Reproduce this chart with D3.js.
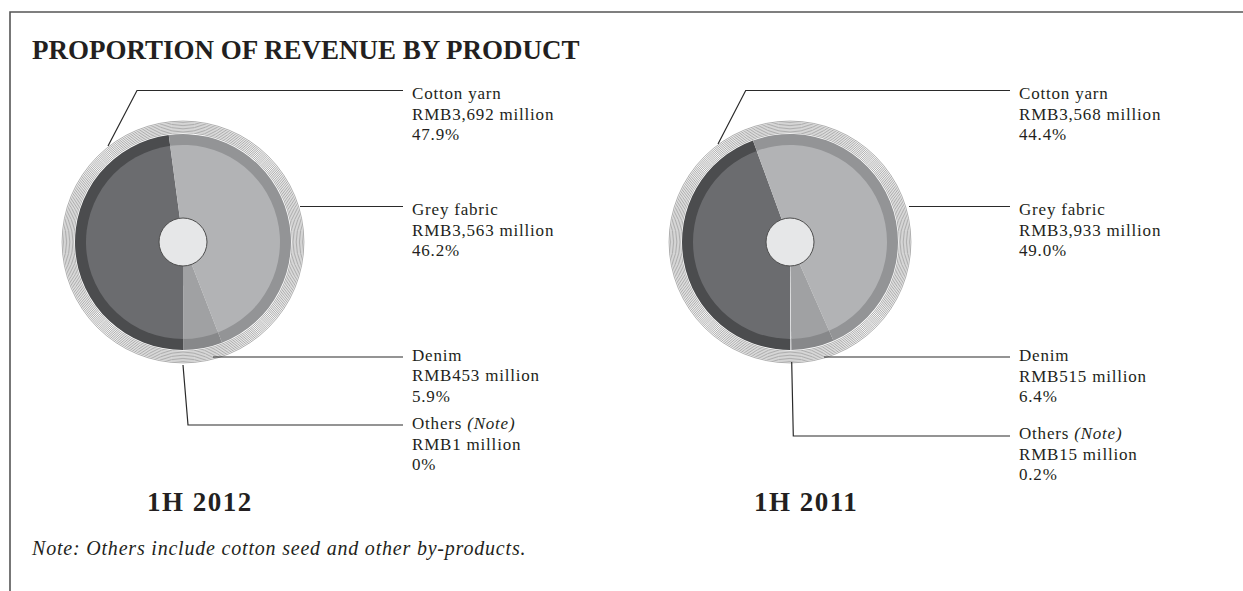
<!DOCTYPE html>
<html>
<head>
<meta charset="utf-8">
<script src="https://cdn.jsdelivr.net/npm/d3@7.9.0/dist/d3.min.js"></script>
<style>
  html, body { margin: 0; padding: 0; background: #fff; }
  svg { display: block; font-family: 'Liberation Serif', 'Times New Roman', serif; }
</style>
</head>
<body>
<svg id="chart" width="1243" height="591"></svg>
<script>
// values
const products = ['Cotton yarn', 'Grey fabric', 'Denim', 'Others'];
const periods = ['1H 2012', '1H 2011'];
const revenue2012 = [3692, 3563, 453, 1];
const share2012 = ['47.9%', '46.2%', '5.9%', '0%'];
const revenue2011 = [3568, 3933, 515, 15];
const share2011 = ['44.4%', '49.0%', '6.4%', '0.2%'];

const faceColors = ['#6b6c6f', '#b2b3b5', '#a0a1a3', '#d9dadc'];
const ringColors = ['#4b4c4e', '#939496', '#87888a', '#c9cacc'];

const svg = d3.select('#chart');
const ink = '#231f20';

// frame (top + left edges only)
svg.append('path')
  .attr('d', 'M10,591 L10,12 L1243,12')
  .attr('fill', 'none')
  .attr('stroke', '#555')
  .attr('stroke-width', 1.6);

svg.append('text')
  .attr('x', 32).attr('y', 59)
  .attr('font-size', 27).attr('font-weight', 'bold')
  .attr('fill', ink)
  .text('PROPORTION OF REVENUE BY PRODUCT');

svg.append('text')
  .attr('x', 32).attr('y', 555)
  .attr('font-size', 20).attr('font-style', 'italic')
  .attr('letter-spacing', 0.8)
  .attr('fill', ink)
  .text('Note: Others include cotton seed and other by-products.');

const pie = d3.pie().sort(null).startAngle(Math.PI).endAngle(3 * Math.PI);
const faceArc = d3.arc().innerRadius(0).outerRadius(97);
const ringArc = d3.arc().innerRadius(96).outerRadius(108);

const charts = [
  {
    cx: 183, cy: 242, revenue: revenue2012, share: share2012, period: periods[0],
    // leader lines: [start, elbow?] relative to centre, plus label baseline
    leaders: [
      { pts: [[-75, -96], [-46, -151.5]], baseline: 99 },
      { pts: [[117, -35.5]], baseline: 215 },
      { pts: [[30, 115]], baseline: 360.5 },
      { pts: [[0, 123], [5, 183]], baseline: 429 }
    ]
  },
  {
    cx: 790, cy: 242, revenue: revenue2011, share: share2011, period: periods[1],
    leaders: [
      { pts: [[-72, -98], [-44.3, -151.5]], baseline: 99 },
      { pts: [[119, -35.5]], baseline: 215 },
      { pts: [[34, 115]], baseline: 361 },
      { pts: [[1.7, 120], [3.3, 194]], baseline: 439 }
    ]
  }
];

charts.forEach(c => {
  const g = svg.append('g').attr('transform', `translate(${c.cx},${c.cy})`);
  const arcs = pie(c.revenue);

  // hatched outer band
  g.selectAll('circle.stripe')
    .data(d3.range(9))
    .enter()
    .append('circle')
    .attr('class', 'stripe')
    .attr('r', i => 109.3 + i * 1.45)
    .attr('fill', 'none')
    .attr('stroke', '#6a6a6a')
    .attr('stroke-width', 0.55);

  g.selectAll('path.ring')
    .data(arcs)
    .enter()
    .append('path')
    .attr('class', 'ring')
    .attr('d', ringArc)
    .attr('fill', (_, i) => ringColors[i]);

  g.selectAll('path.face')
    .data(arcs)
    .enter()
    .append('path')
    .attr('class', 'face')
    .attr('d', faceArc)
    .attr('fill', (_, i) => faceColors[i]);

  g.append('circle')
    .attr('r', 24)
    .attr('fill', '#e6e7e8')
    .attr('stroke', '#4d4d4d')
    .attr('stroke-width', 1);

  // leader lines and labels
  const lineEnd = 220;
  const textX = 229;
  c.leaders.forEach((l, i) => {
    const pts = l.pts.slice();
    const last = pts[pts.length - 1];
    pts.push([lineEnd, last[1]]);
    g.append('path')
      .attr('d', d3.line()(pts))
      .attr('fill', 'none')
      .attr('stroke', '#2a2a2a')
      .attr('stroke-width', 1.2);

    const t = g.append('text')
      .attr('x', textX)
      .attr('y', l.baseline - c.cy)
      .attr('font-size', 17)
      .attr('letter-spacing', 0.8)
      .attr('fill', ink);
    t.append('tspan').attr('x', textX).text(products[i]);
    if (products[i] === 'Others') {
      t.append('tspan').text(' ');
      t.append('tspan').attr('font-style', 'italic').text('(Note)');
    }
    t.append('tspan').attr('x', textX).attr('dy', 20.5)
      .text(`RMB${d3.format(',')(c.revenue[i])} million`);
    t.append('tspan').attr('x', textX).attr('dy', 20.5).text(c.share[i]);
  });

  svg.append('text')
    .attr('x', c.cx - 36).attr('y', 511)
    .attr('font-size', 27).attr('font-weight', 'bold')
    .attr('letter-spacing', 1.5)
    .attr('fill', ink)
    .text(c.period);
});
</script>
</body>
</html>
